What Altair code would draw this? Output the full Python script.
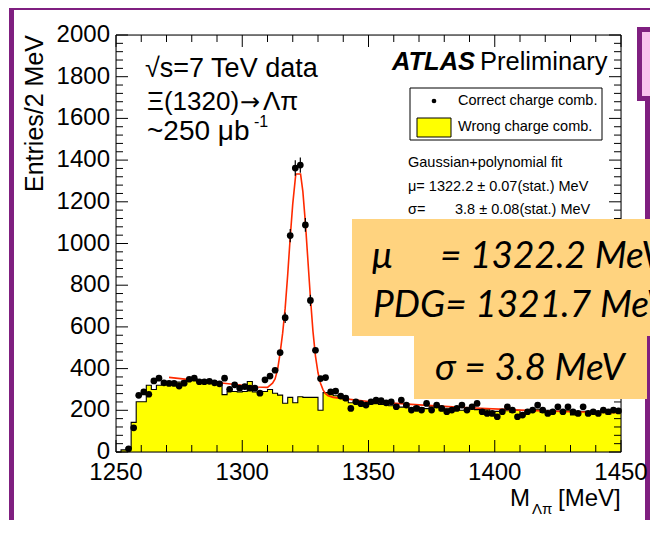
import altair as alt
import pandas as pd

# ---------------- data ----------------
# 2 MeV bins from 1250 to 1450 (lower edges) and their centres
bin_lo = list(range(1250, 1450, 2))
bin_c = [b + 1 for b in bin_lo]

# "Correct charge comb." data points (entries per bin)
correct = [
    0, 0, 15, 116, 272, 288, 277, 341, 354, 332,
    329, 329, 316, 330, 349, 354, 337, 337, 339, 332,
    327, 354, 301, 322, 306, 314, 306, 306, 282, 346,
    364, 392, 477, 644, 1038, 1362, 1376, 1089, 727, 488,
    352, 357, 288, 292, 268, 258, 209, 241, 232, 225,
    241, 249, 246, 236, 241, 217, 249, 225, 201, 209,
    201, 233, 201, 225, 209, 193, 201, 209, 225, 201,
    217, 233, 193, 185, 185, 169, 193, 217, 201, 169,
    177, 193, 201, 225, 201, 185, 193, 217, 193, 217,
    193, 185, 217, 185, 193, 185, 201, 193, 201, 197,
]

# visible statistical error bars (only around the peak)
err_mass = [1317, 1319, 1321, 1323, 1325, 1327]
err_size = [25, 32, 37, 37, 33, 27]

# "Wrong charge comb." histogram (entries per bin)
wrong = [
    0, 10, 20, 142, 241, 241, 320, 300, 320, 330,
    335, 325, 335, 340, 345, 352, 340, 335, 338, 330,
    335, 275, 290, 290, 288, 290, 338, 288, 285, 290,
    300, 282, 273, 234, 262, 236, 265, 262, 262, 262,
    200, 285, 282, 270, 260, 250, 236, 245, 228, 225,
    238, 232, 228, 240, 222, 226, 215, 232, 205, 218,
    212, 208, 220, 214, 198, 210, 205, 215, 200, 210,
    215, 203, 196, 205, 188, 195, 205, 198, 190, 200,
    176, 198, 196, 205, 190, 200, 188, 196, 192, 200,
    178, 178, 195, 190, 198, 190, 202, 182, 198, 195,
]

# Gaussian+polynomial fit curve
fit_mass = [1271, 1280, 1290, 1300, 1306, 1310, 1312, 1313, 1314, 1315,
            1316, 1317, 1318, 1319, 1320, 1321.2, 1323.1, 1324, 1325, 1326,
            1327, 1328, 1329, 1330, 1331, 1332, 1333, 1334, 1336, 1340,
            1350, 1370, 1390, 1410, 1430, 1449]
fit_entries = [358, 346, 333, 320, 312, 310, 330, 350, 395, 475,
               570, 690, 850, 1030, 1190, 1333, 1333, 1250, 1100, 920,
               740, 580, 460, 380, 330, 298, 280, 270, 262, 256,
               242, 226, 212, 201, 193, 188]

x_major = [1250, 1300, 1350, 1400, 1450]
x_minor = [1260, 1270, 1280, 1290, 1310, 1320, 1330, 1340, 1360, 1370,
           1380, 1390, 1410, 1420, 1430, 1440]
y_major = [0, 200, 400, 600, 800, 1000, 1200, 1400, 1600, 1800, 2000]
y_minor = [v for v in range(0, 2001, 40) if v % 200]

# ---------------- layout ----------------
W, H = 505, 417
PAD = {"left": 108, "top": 27, "right": 29, "bottom": 68}
PURPLE = "#7f1f80"
ORANGE = "#ffd37f"
PINK = "#f9c2ee"
FONT = "Liberation Sans"
RMAX = W + PAD["right"]

xs = alt.Scale(domain=[1250, 1450], nice=False, zero=False)
ys = alt.Scale(domain=[0, 2000], nice=False, zero=True)

one = pd.DataFrame({"a": [0]})


def box(x1, x2, y1, y2, **kw):
    return alt.Chart(one).mark_rect(**kw).encode(
        x=alt.value(x1), x2=alt.value(x2), y=alt.value(y1), y2=alt.value(y2))


def txt(s, x, y, size, font=FONT, **kw):
    opts = dict(align="left", baseline="alphabetic", fontSize=size, font=font, color="black")
    opts.update(kw)
    return alt.Chart(pd.DataFrame({"t": [s]})).mark_text(**opts).encode(
        x=alt.value(x), y=alt.value(y), text="t:N")


hist_df = pd.DataFrame({"m": bin_lo + [1450], "n": wrong + [wrong[-1]]})
pts_df = pd.DataFrame({"m": bin_c, "n": correct})
fit_df = pd.DataFrame({"m": fit_mass, "n": fit_entries})
pk = dict(zip(bin_c, correct))
err_df = pd.DataFrame({"m": err_mass, "lo": [pk[m] - e for m, e in zip(err_mass, err_size)],
                       "hi": [pk[m] + e for m, e in zip(err_mass, err_size)]})

X = lambda f: alt.X(f, scale=xs, axis=None)
Y = lambda f: alt.Y(f, scale=ys, axis=None)

hist = alt.Chart(hist_df).mark_area(
    interpolate="step-after", color="#ffff00", opacity=1,
    line=alt.OverlayMarkDef(color="black", strokeWidth=1.1),
).encode(x=X("m:Q"), y=Y("n:Q"))

fit = alt.Chart(fit_df).mark_line(color="#ff2a00", strokeWidth=1.6).encode(
    x=X("m:Q"), y=Y("n:Q"))

errs = alt.Chart(err_df).mark_rule(color="black", strokeWidth=1.2).encode(
    x=X("m:Q"), y=Y("lo:Q"), y2="hi:Q")

pts = alt.Chart(pts_df).transform_filter("datum.n > 0").mark_circle(
    size=45, color="black", opacity=1).encode(x=X("m:Q"), y=Y("n:Q"))


def yticks(vals, length):
    d = pd.DataFrame({"v": vals})
    left = alt.Chart(d).mark_rule(color="black", strokeWidth=1).encode(
        y=Y("v:Q"), x=alt.value(0), x2=alt.value(length))
    right = alt.Chart(d).mark_rule(color="black", strokeWidth=1).encode(
        y=Y("v:Q"), x=alt.value(W - length), x2=alt.value(W))
    return [left, right]


def xticks(vals, length):
    d = pd.DataFrame({"v": vals})
    bot = alt.Chart(d).mark_rule(color="black", strokeWidth=1).encode(
        x=X("v:Q"), y=alt.value(H - length), y2=alt.value(H))
    top = alt.Chart(d).mark_rule(color="black", strokeWidth=1).encode(
        x=X("v:Q"), y=alt.value(0), y2=alt.value(length))
    return [bot, top]


xlab = alt.Chart(pd.DataFrame({"v": x_major})).mark_text(
    font=FONT, fontSize=24, color="black", align="center", baseline="top").encode(
    x=X("v:Q"), y=alt.value(H + 9), text="v:N")
ylab = alt.Chart(pd.DataFrame({"v": y_major})).mark_text(
    font=FONT, fontSize=24, color="black", align="right", baseline="middle").encode(
    y=Y("v:Q"), x=alt.value(-6), text="v:N")

frame = box(0, W, 0, H, fill="white", fillOpacity=0, stroke="black", strokeWidth=1)

layers = [
    # slide decoration
    box(-107, -102, -27, 491, color=PURPLE),
    box(-107, RMAX, -27, -25, color=PURPLE),
    box(521, RMAX, -8, 66, color=PURPLE),
    box(526, RMAX, -3, 61, color=PINK),
    box(529, RMAX, 66, 491, color=PURPLE),
    # plot
    hist, fit, errs, pts,
    *yticks(y_major, 12), *yticks(y_minor, 7),
    *xticks(x_major, 12), *xticks(x_minor, 7),
    frame, xlab, ylab,
    # axis titles
    txt("Entries/2 MeV", -73, 0, 25, angle=270, align="right"),
    txt("M", 394, 471, 24),
    txt("Λπ", 416, 479, 15),
    txt("[MeV]", 442, 471, 24),
    # labels inside the plot
    txt("√s=7 TeV data", 29, 42, 27),
    txt("Ξ(1320)", 31, 75, 26),
    txt("→", 124, 75, 24, font="DejaVu Sans"),
    txt("Λπ", 147, 75, 26),
    txt("~250 μb", 31, 105, 28),
    txt("-1", 138, 92, 16),
    txt("ATLAS", 276, 35, 25.5, fontWeight="bold", fontStyle="italic"),
    txt("Preliminary", 364, 35, 25.5),
    box(294, 486, 53, 105, fill="white", stroke="black", strokeWidth=1),
    alt.Chart(one).mark_circle(size=22, color="black", opacity=1).encode(
        x=alt.value(318), y=alt.value(66)),
    txt("Correct charge comb.", 342, 66, 14.5, baseline="middle"),
    box(301, 335, 83, 102, fill="#ffff00", stroke="black", strokeWidth=1),
    txt("Wrong charge comb.", 342, 92, 14.5, baseline="middle"),
    txt("Gaussian+polynomial fit", 292, 132, 14.5),
    txt("μ= 1322.2 ± 0.07(stat.) MeV", 292, 156, 14.5),
    txt("σ=", 292, 179, 14.5),
    txt("3.8 ± 0.08(stat.) MeV", 339, 179, 14.5),
    # orange call-out boxes
    box(236, RMAX, 184, 301, color=ORANGE),
    box(298, RMAX - 3, 301, 364, color=ORANGE),
    txt("μ", 256, 233, 37, font="Lato", fontStyle="italic"),
    txt("= 1322.2 MeV", 324, 233, 37, font="Lato", fontStyle="italic"),
    txt("PDG= 1321.7 MeV", 257, 282, 37, font="Lato", fontStyle="italic"),
    txt("σ = 3.8 MeV", 319, 345, 37, font="Lato", fontStyle="italic"),
]

chart = alt.layer(*layers).properties(
    width=W, height=H,
    autosize=alt.AutoSizeParams(type="none"),
    padding=PAD,
).configure_view(stroke=None).configure(background="white")

chart.save("out.html", embed_options={"renderer": "svg", "actions": False})
